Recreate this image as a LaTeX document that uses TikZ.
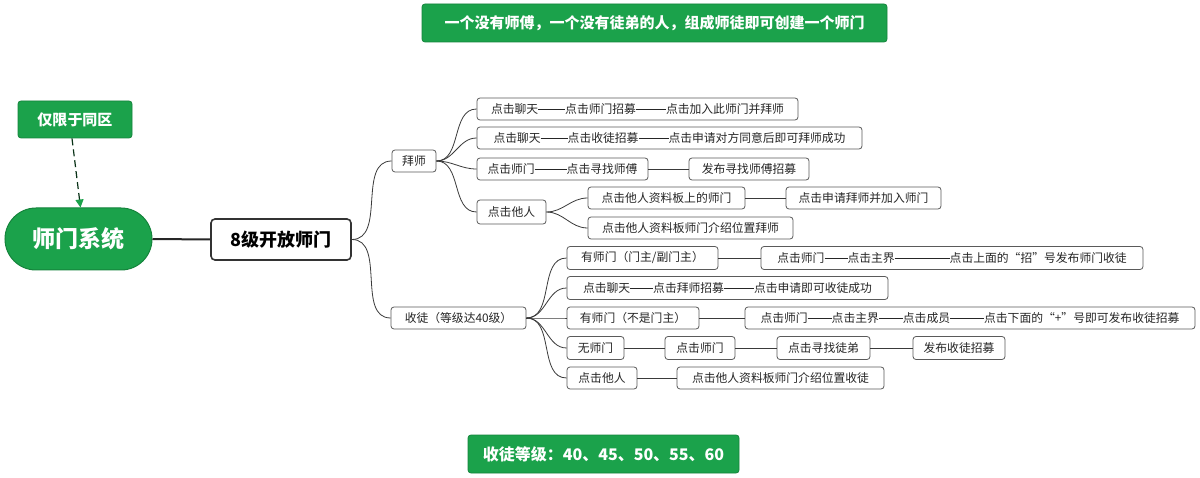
\documentclass[tikz,border=0pt]{standalone}
\usepackage{fontspec}
\setmainfont{Noto Sans CJK SC}
\usetikzlibrary{arrows.meta}
\definecolor{mygreen}{HTML}{1BA24B}
\definecolor{mygreendark}{HTML}{15843C}
\definecolor{boxline}{HTML}{5A5A5A}
\definecolor{lineclr}{HTML}{3A3A3A}
\newcommand{\dd}[1]{\rule[0.36em]{#1pt}{0.7pt}}
\begin{document}
\begin{tikzpicture}[x=1pt,y=-1pt,
  greenbox/.style={draw=mygreendark, line width=0.8pt, fill=mygreen, text=white, rounded corners=3pt, inner sep=0pt, font=\fontsize{15}{17}\selectfont\bfseries},
  leaf/.style={draw=boxline, line width=0.8pt, fill=white, rounded corners=3pt, inner xsep=3pt, inner ysep=0pt, minimum height=22pt, text=black!85, font=\fontsize{11.8}{13}\selectfont},
  conn/.style={draw=lineclr, line width=0.8pt},
  curv/.style={out=0, in=180}
]
\useasboundingbox (0,0) rectangle (1200,478);
\fill[white] (0,0) rectangle (1200,478);

% banners
\node[greenbox, minimum width=465pt, minimum height=38pt] (top) at (654.5,23) {一个没有师傅，一个没有徒弟的人，组成师徒即可创建一个师门};
\node[greenbox, minimum width=114pt, minimum height=37pt] (limit) at (75,119.5) {仅限于同区};
\node[greenbox, minimum width=271pt, minimum height=38pt, font=\fontsize{16}{18}\selectfont\bfseries] (levels) at (603.5,454) {收徒等级：40、45、50、55、60};

% root
\node[draw=mygreendark, line width=1pt, fill=mygreen, text=white, rounded corners=31pt, minimum width=147pt, minimum height=62pt, inner sep=0pt, font=\fontsize{23}{26}\selectfont\bfseries] (sys) at (78.5,239) {师门系统};
\node[draw=black!80, line width=1.6pt, fill=white, rounded corners=4pt, minimum width=140pt, minimum height=41pt, inner sep=0pt, font=\fontsize{18}{20}\selectfont\bfseries] (lv8) at (281,239.5) {8级开放师门};

\draw[draw=black!70!mygreen, line width=1.2pt, dash pattern=on 7pt off 4pt, -{Triangle[length=8pt,width=8pt,color=mygreen]}] ([xshift=-3pt]limit.south) -- ([xshift=2pt]sys.north);
\draw[conn, line width=2pt, draw=black!85] (sys.east) -- (lv8.west);

% level 2
\node[leaf, minimum width=44pt] (baishi) at (414,161) {拜师};
\node[leaf, minimum width=135pt] (shoutu) at (458.5,318) {收徒（等级达40级）};

% branch 1
\node[leaf, minimum width=321pt] (b1) at (637.5,109) {点击聊天\dd{27}点击师门招募\dd{30}点击加入此师门并拜师};
\node[leaf, minimum width=385pt] (b2) at (669.5,138) {点击聊天\dd{27}点击收徒招募\dd{30}点击申请对方同意后即可拜师成功};
\node[leaf, minimum width=171pt] (b3) at (562.5,169) {点击师门\dd{32}点击寻找师傅};
\node[leaf, minimum width=120pt] (b3b) at (749,169) {发布寻找师傅招募};
\node[leaf, minimum width=69pt, minimum height=24pt] (b4) at (511.5,212) {点击他人};
\node[leaf, minimum width=157pt] (b4a) at (666.5,198) {点击他人资料板上的师门};
\node[leaf, minimum width=155pt] (b4a2) at (863.5,198) {点击申请拜师并加入师门};
\node[leaf, minimum width=205pt] (b4b) at (690.5,228) {点击他人资料板师门介绍位置拜师};

% branch 2
\node[leaf, minimum width=151pt, minimum height=23pt] (s1) at (642.5,258) {有师门（门主/副门主）};
\node[leaf, minimum width=382pt, minimum height=23pt] (s1b) at (952,258) {点击师门\dd{23}点击主界\dd{55}点击上面的“招”号发布师门收徒};
\node[leaf, minimum width=321pt, minimum height=23pt] (s2) at (727.5,288) {点击聊天\dd{23}点击拜师招募\dd{30}点击申请即可收徒成功};
\node[leaf, minimum width=132pt] (s3) at (633,318) {有师门（不是门主）};
\node[leaf, minimum width=450pt] (s3b) at (970,318) {点击师门\dd{24}点击主界\dd{24}点击成员\dd{34}点击下面的“+”号即可发布收徒招募};
\node[leaf, minimum width=57pt, minimum height=23pt] (s4) at (595.5,348) {无师门};
\node[leaf, minimum width=70pt, minimum height=23pt] (s4b) at (700,348) {点击师门};
\node[leaf, minimum width=93pt, minimum height=23pt] (s4c) at (823.5,348) {点击寻找徒弟};
\node[leaf, minimum width=92pt, minimum height=23pt] (s4d) at (959,348) {发布收徒招募};
\node[leaf, minimum width=70pt] (s5) at (602,378) {点击他人};
\node[leaf, minimum width=207pt] (s5b) at (780.5,378) {点击他人资料板师门介绍位置收徒};

% curved connectors
\draw[conn] (lv8.east) to[curv] (baishi.west);
\draw[conn] (lv8.east) to[curv] (shoutu.west);
\foreach \c in {b1,b2,b3,b4} \draw[conn] (baishi.east) to[curv] (\c.west);
\foreach \c in {b4a,b4b} \draw[conn] (b4.east) to[curv] (\c.west);
\foreach \c in {s1,s2,s3,s4,s5} \draw[conn] (shoutu.east) to[curv] (\c.west);

% straight connectors
\draw[conn] (b3.east) -- (b3b.west);
\draw[conn] (b4a.east) -- (b4a2.west);
\draw[conn] (s1.east) -- (s1b.west);
\draw[conn] (s3.east) -- (s3b.west);
\draw[conn] (s4.east) -- (s4b.west);
\draw[conn] (s4b.east) -- (s4c.west);
\draw[conn] (s4c.east) -- (s4d.west);
\draw[conn] (s5.east) -- (s5b.west);
\end{tikzpicture}
\end{document}
